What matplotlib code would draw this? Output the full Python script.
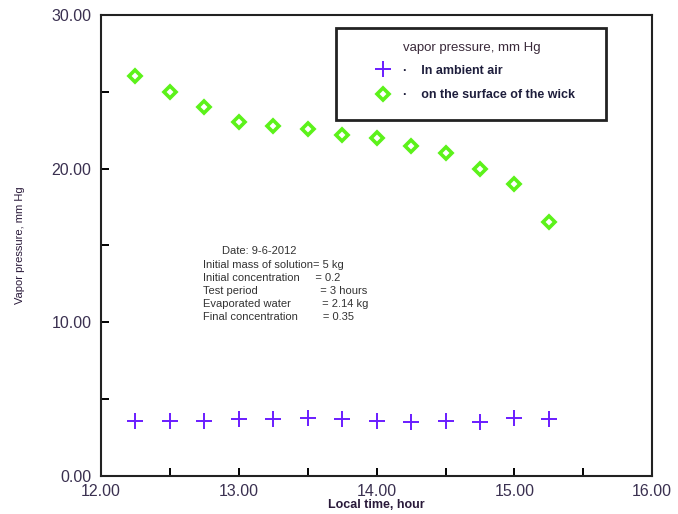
import numpy as np
import matplotlib
matplotlib.use("Agg")
import matplotlib.pyplot as plt
from matplotlib.ticker import MultipleLocator, FormatStrFormatter
from matplotlib.patches import Rectangle

plt.rcParams['font.family'] = ['Liberation Sans', 'DejaVu Sans']

# local time, hour
time_h = [12.25, 12.5, 12.75, 13.0, 13.25, 13.5, 13.75, 14.0, 14.25, 14.5, 14.75, 15.0, 15.25]
# vapor pressure, mm Hg
p_ambient = [3.6, 3.6, 3.6, 3.7, 3.7, 3.8, 3.7, 3.6, 3.5, 3.6, 3.5, 3.8, 3.7]
p_wick = [26.0, 25.0, 24.0, 23.0, 22.8, 22.6, 22.2, 22.0, 21.5, 21.0, 20.0, 19.0, 16.5]

info_lines = [
    "Date: 9-6-2012",
    "Initial mass of solution= 5 kg",
    "Initial concentration     = 0.2",
    "Test period                    = 3 hours",
    "Evaporated water          = 2.14 kg",
    "Final concentration        = 0.35",
]

fig = plt.figure(figsize=(6.78, 5.14), dpi=100)
ax = fig.add_axes([0.149, 0.074, 0.813, 0.897])

ax.plot(time_h, p_ambient, linestyle='none', marker='+', markersize=11,
        markeredgewidth=1.4, color='#6a1cff', label='·    In ambient air')
ax.plot(time_h, p_wick, linestyle='none', marker='D', markersize=6.5,
        markeredgewidth=2.6, markeredgecolor='#5cf21a', markerfacecolor='white',
        label='·    on the surface of the wick')

ax.set_xlim(12, 16)
ax.set_ylim(0, 30)
ax.xaxis.set_major_locator(MultipleLocator(1))
ax.xaxis.set_minor_locator(MultipleLocator(0.5))
ax.yaxis.set_major_locator(MultipleLocator(10))
ax.yaxis.set_minor_locator(MultipleLocator(5))
ax.xaxis.set_major_formatter(FormatStrFormatter('%.2f'))
ax.yaxis.set_major_formatter(FormatStrFormatter('%.2f'))
ax.tick_params(which='both', direction='in', width=1.4, length=6,
               labelsize=11.5, labelcolor='#3a3050')
ax.tick_params(axis='x', pad=6)
ax.tick_params(axis='y', pad=7)
for s in ax.spines.values():
    s.set_linewidth(1.5)
    s.set_color('#222222')

ax.set_xlabel("Local time, hour", fontsize=9, fontweight='bold', color='#2a1a3a', labelpad=0)
ax.set_ylabel("Vapor pressure, mm Hg", fontsize=8, color='#2a1a3a', labelpad=19)

# legend box with title
ax.add_patch(Rectangle((0.426, 0.772), 0.491, 0.2, transform=ax.transAxes,
                       fill=False, edgecolor='#222222', linewidth=2, zorder=5))
leg = ax.legend(loc='upper left', bbox_to_anchor=(0.48, 0.903), frameon=False,
                prop={'size': 9, 'weight': 'bold'}, handletextpad=0.6,
                labelspacing=1.0, borderaxespad=0, numpoints=1)
for t in leg.get_texts():
    t.set_color('#1e1e3c')
ax.text(0.672, 0.928, "vapor pressure, mm Hg", transform=ax.transAxes,
        ha='center', va='center', fontsize=9.5, color='#3a2a3a')

y0 = 0.487
for i, line in enumerate(info_lines):
    ax.text(0.185 if i > 0 else 0.22, y0 - i * 0.0285, line, transform=ax.transAxes,
            ha='left', va='center', fontsize=8, color='#333333')

fig.savefig("out.png", dpi=100)
